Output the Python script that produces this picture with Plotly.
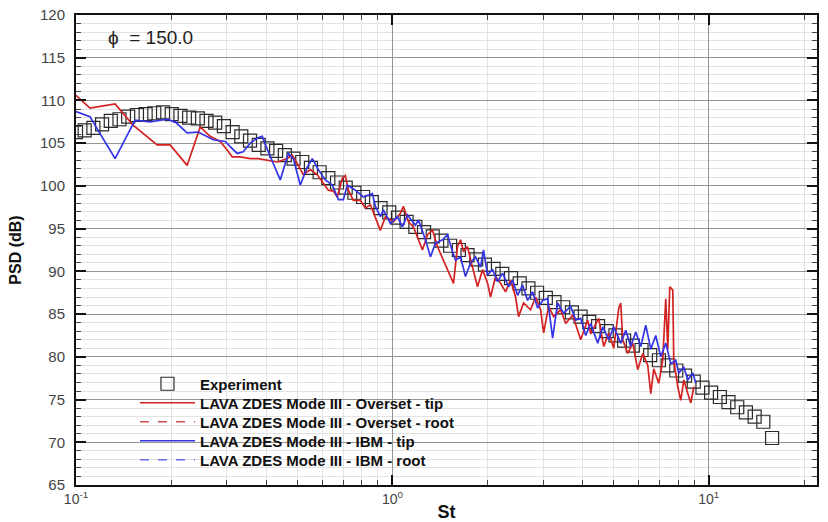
import plotly.graph_objects as go

# ---------------- data ----------------
exp_st = [0.1, 0.1065, 0.1135, 0.1209, 0.1288, 0.1372, 0.1462, 0.1558, 0.166, 0.1768,
          0.1884, 0.2007, 0.2138, 0.2278, 0.2427, 0.2585, 0.2754, 0.2934, 0.3126, 0.333,
          0.3548, 0.378, 0.4027, 0.429, 0.4571, 0.487, 0.5188, 0.5527, 0.5888, 0.6273,
          0.6683, 0.712, 0.7586, 0.8082, 0.861, 0.9173, 0.9772, 1.041, 1.109, 1.182,
          1.259, 1.341, 1.429, 1.522, 1.622, 1.728, 1.841, 1.961, 2.089, 2.225,
          2.371, 2.526, 2.691, 2.866, 3.054, 3.253, 3.466, 3.692, 3.933, 4.19,
          4.467, 4.758, 5.069, 5.4, 5.753, 6.129, 6.529, 6.956, 7.41, 7.894,
          8.414, 8.964, 9.55, 10.17, 10.84, 11.54, 12.3, 13.1, 13.96, 14.87, 15.85]
exp_db = [106.3, 106.5, 106.8, 107.2, 107.6, 107.8, 108.1, 108.3, 108.4, 108.5,
          108.6, 108.4, 108.2, 108.0, 107.9, 107.6, 107.4, 107.0, 106.3, 105.8,
          105.3, 104.8, 104.4, 104.1, 103.6, 103.2, 102.8, 102.1, 101.6, 100.9,
          100.4, 99.8, 99.2, 98.7, 98.1, 97.4, 96.9, 96.3, 95.8, 95.2,
          94.6, 94.1, 93.6, 93.0, 92.5, 91.9, 91.4, 90.8, 90.3, 89.7,
          89.2, 88.6, 88.0, 87.5, 86.9, 86.4, 85.8, 85.2, 84.7, 84.1,
          83.6, 83.0, 82.5, 81.9, 81.3, 80.8, 80.2, 79.6, 79.0, 78.4,
          77.8, 77.1, 76.4, 75.8, 75.3, 74.7, 74.1, 73.5, 73.0, 72.4, 70.5]

overset_tip_st = [0.1, 0.1107, 0.1329, 0.1515, 0.1804, 0.1984, 0.2245, 0.2469, 0.2655, 0.2856,
                  0.3005, 0.3117, 0.3304, 0.3554, 0.3767, 0.4022, 0.4326, 0.4654, 0.4826, 0.5042,
                  0.5229, 0.5502, 0.579, 0.6005, 0.6273, 0.6506, 0.6698, 0.6947, 0.7101, 0.7258,
                  0.7527, 0.7921, 0.8215, 0.852, 0.8966, 0.9164, 0.9504, 1.007, 1.060, 1.084,
                  1.124, 1.166, 1.209, 1.244, 1.291, 1.339, 1.388, 1.450, 1.504, 1.56,
                  1.606, 1.642, 1.678, 1.727, 1.791, 1.858, 1.927, 1.999, 2.043, 2.119,
                  2.197, 2.279, 2.363, 2.451, 2.505, 2.598, 2.734, 2.835, 2.941, 3.006,
                  3.117, 3.233, 3.402, 3.529, 3.713, 3.851, 3.936, 4.142, 4.233, 4.488,
                  4.655, 4.828, 5.007, 5.193, 5.269, 5.346, 5.544, 5.75, 5.963, 6.185,
                  6.414, 6.556, 6.699, 6.948, 7.153, 7.311, 7.419, 7.528, 7.695, 7.75,
                  7.98, 8.156, 8.337, 8.584, 8.774, 8.967]
overset_tip_db = [110.6, 109.1, 109.6, 107.1, 104.8, 104.8, 102.4, 106.9, 105.8, 105.2,
                  104.2, 103.4, 103.4, 103.2, 103.2, 103.0, 102.8, 103.2, 103.6, 102.4,
                  101.3, 101.9, 101.3, 100.5, 99.5, 99.4, 98.7, 100.9, 101.2, 99.5,
                  98.3, 98.3, 97.4, 97.8, 95.6, 94.8, 96.4, 95.8, 96.8, 97.6,
                  95.8, 95.2, 93.7, 92.5, 94.3, 94.8, 92.9, 91.3, 89.8, 88.6,
                  92.9, 93.7, 92.3, 92.9, 90.5, 88.2, 90.2, 88.6, 87.0, 89.4,
                  88.6, 87.6, 89.0, 87.0, 84.7, 86.3, 85.5, 87.0, 85.5, 82.8,
                  85.9, 84.7, 85.5, 83.9, 84.9, 83.1, 82.0, 84.3, 82.7, 84.5,
                  81.2, 82.8, 81.0, 85.7, 86.3, 82.0, 80.4, 81.6, 78.5, 80.4,
                  79.0, 75.7, 78.6, 76.9, 79.6, 86.8, 80.9, 88.2, 87.8, 79.6,
                  76.5, 74.9, 77.3, 75.7, 74.6, 76.5]

ibm_tip_st = [0.1, 0.1107, 0.1174, 0.1329, 0.1537, 0.1715, 0.1941, 0.2057, 0.2245, 0.2433,
              0.2714, 0.2962, 0.3072, 0.3232, 0.3377, 0.3554, 0.374, 0.3878, 0.4052, 0.4264,
              0.4422, 0.4687, 0.4861, 0.5116, 0.5383, 0.5583, 0.5833, 0.6139, 0.646, 0.6748,
              0.6998, 0.7205, 0.7637, 0.8096, 0.8645, 0.8836, 0.9164, 0.9366, 0.9857, 1.037,
              1.076, 1.116, 1.183, 1.209, 1.272, 1.319, 1.368, 1.440, 1.493, 1.549,
              1.583, 1.642, 1.702, 1.766, 1.831, 1.899, 1.941, 1.999, 2.073, 2.150,
              2.229, 2.329, 2.398, 2.487, 2.579, 2.675, 2.774, 2.877, 2.983, 3.095,
              3.163, 3.209, 3.328, 3.478, 3.659, 3.796, 3.936, 4.082, 4.233, 4.455,
              4.621, 4.828, 5.007, 5.269, 5.464, 5.666, 5.877, 6.095, 6.321, 6.556,
              6.798, 7.05, 7.311, 7.583, 7.863, 8.039, 8.337, 8.584, 8.902, 9.098]
ibm_tip_db = [108.7, 108.1, 106.5, 103.2, 107.7, 107.5, 107.8, 107.5, 106.2, 106.3,
              105.4, 105.2, 104.6, 103.8, 104.0, 105.0, 105.6, 105.8, 104.0, 102.1,
              100.7, 103.8, 103.2, 100.1, 102.2, 103.2, 101.9, 100.7, 100.1, 98.4,
              98.4, 100.1, 99.5, 98.7, 99.1, 97.6, 96.4, 97.2, 95.6, 96.4,
              95.2, 96.6, 95.4, 96.0, 93.7, 91.7, 93.3, 93.7, 94.3, 92.3,
              91.3, 91.7, 89.4, 91.0, 91.7, 90.5, 92.5, 89.6, 90.2, 88.8,
              89.8, 88.2, 89.0, 87.2, 88.4, 86.6, 87.6, 85.7, 86.6, 86.8,
              84.3, 82.2, 86.3, 85.1, 85.9, 84.3, 84.5, 82.5, 83.9, 81.6,
              83.5, 82.0, 83.5, 81.6, 83.1, 81.2, 82.9, 81.2, 83.7, 80.9,
              82.5, 80.0, 81.6, 79.2, 79.6, 78.1, 78.8, 77.3, 78.1, 76.9]

series_names = ["Experiment",
                "LAVA ZDES Mode III - Overset - tip",
                "LAVA ZDES Mode III - Overset - root",
                "LAVA ZDES Mode III - IBM - tip",
                "LAVA ZDES Mode III - IBM - root"]

x_tickvals = [0.1, 1, 10]
x_ticktext = ["10<sup>-1</sup>", "10<sup>0</sup>", "10<sup>1</sup>"]

# ---------------- figure ----------------
RED = "#d42222"
BLUE = "#3434e6"
FONT = "Liberation Sans, Arial, sans-serif"

fig = go.Figure()
fig.add_trace(go.Scatter(
    x=exp_st, y=exp_db, mode="markers", name=series_names[0], legend="legend",
    marker=dict(symbol="square-open", size=13, color="#2a2a2a",
                line=dict(width=1.2, color="#2a2a2a"))))
fig.add_trace(go.Scatter(
    x=overset_tip_st, y=overset_tip_db, mode="lines", name=series_names[1], legend="legend2",
    line=dict(color=RED, width=1.7)))
fig.add_trace(go.Scatter(
    x=[None], y=[None], mode="lines", name=series_names[2], legend="legend3",
    line=dict(color="#c85050", width=1.7, dash="dash")))
fig.add_trace(go.Scatter(
    x=ibm_tip_st, y=ibm_tip_db, mode="lines", name=series_names[3], legend="legend4",
    line=dict(color=BLUE, width=1.7)))
fig.add_trace(go.Scatter(
    x=[None], y=[None], mode="lines", name=series_names[4], legend="legend5",
    line=dict(color="#6a6af0", width=1.7, dash="dash")))

leg_font = dict(family=FONT, size=15, color="#111111", weight="bold")
row_y = [0.2149, 0.1745, 0.134, 0.0936, 0.0532]
legends = {}
for i, yy in enumerate(row_y):
    key = "legend" if i == 0 else f"legend{i + 1}"
    legends[key] = dict(x=0.0796, y=yy, xanchor="left", yanchor="middle",
                        bgcolor="rgba(0,0,0,0)", borderwidth=0, font=leg_font,
                        itemwidth=55, tracegroupgap=0)

fig.update_layout(
    width=828, height=522,
    margin=dict(l=76, r=11, t=15, b=37, autoexpand=False),
    paper_bgcolor="white", plot_bgcolor="white",
    font=dict(family=FONT, color="#222222"),
    showlegend=True,
    annotations=[dict(text="ϕ  = 150.0", xref="paper", yref="paper",
                      x=0.04, y=0.953, xanchor="left", yanchor="middle",
                      showarrow=False, font=dict(family=FONT, size=19, color="#222222"))],
    **legends,
)

fig.update_xaxes(
    type="log", range=[-1, 1.342],
    tickvals=x_tickvals, ticktext=x_ticktext,
    tickfont=dict(family=FONT, size=14, color="#444444"),
    ticks="inside", ticklen=10, tickwidth=2, tickcolor="#111111",
    showline=True, linewidth=2, linecolor="#111111", mirror="ticks",
    showgrid=True, gridcolor="#949494", gridwidth=1,
    minor=dict(dtick="D1", ticks="inside", ticklen=5, tickwidth=1, tickcolor="#444444",
               showgrid=True, gridcolor="#e2e2e2", gridwidth=1),
    zeroline=False,
    title=dict(text="<b>St</b>", font=dict(family=FONT, size=18, color="#111111"), standoff=2),
    automargin=False,
)
fig.update_yaxes(
    range=[65, 120], tick0=65, dtick=5,
    tickfont=dict(family=FONT, size=15, color="#444444"),
    ticks="inside", ticklen=10, tickwidth=2, tickcolor="#111111",
    ticklabelstandoff=6,
    showline=True, linewidth=2, linecolor="#111111", mirror="ticks",
    showgrid=True, gridcolor="#949494", gridwidth=1,
    minor=dict(dtick=1, ticks="inside", ticklen=5, tickwidth=1, tickcolor="#444444",
               showgrid=True, gridcolor="#e2e2e2", gridwidth=1),
    zeroline=False,
    title=dict(text="<b>PSD (dB)</b>", font=dict(family=FONT, size=16, color="#111111"), standoff=14),
    automargin=False,
)

fig.write_html("out.html")
